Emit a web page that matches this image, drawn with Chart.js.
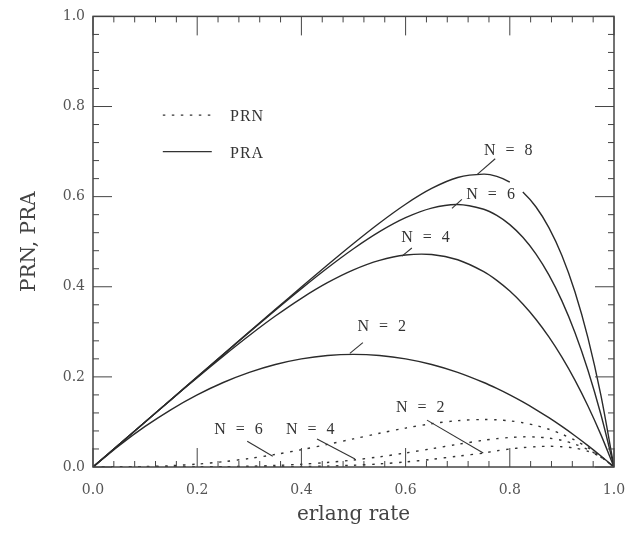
<!DOCTYPE html>
<html>
<head>
<meta charset="utf-8">
<script src="https://cdn.jsdelivr.net/npm/chart.js@4"></script>
<style>
  html, body { margin: 0; padding: 0; background: #fff; }
  #wrap { width: 630px; height: 537px; }
</style>
</head>
<body>
<div id="wrap"><canvas id="chart" width="630" height="537"></canvas></div>
<script>
// erlang rate (x values shared by every curve)
const erlang = [0, 0.05, 0.1, 0.15, 0.2, 0.25, 0.3, 0.35, 0.4, 0.45, 0.5, 0.55, 0.6, 0.65, 0.7, 0.75, 0.775, 0.8, 0.825, 0.85, 0.875, 0.9, 0.925, 0.95, 0.975, 1];

// PRA (solid)
const pra2 = [0, .0475, .09, .1275, .16, .1875, .21, .2275, .24, .2475, .25, .2475, .24, .2275, .21, .1875, .1744, .16, .1444, .1275, .1094, .09, .0694, .0475, .0244, 0];
const pra4 = [0, .05, .0999, .1495, .1984, .2461, .2919, .335, .3744, .409, .4375, .4585, .4704, .4715, .4599, .4336, .4142, .3904, .3618, .328, .2888, .2439, .1929, .1355, .0713, 0];
const pra6 = [0, .05, .1, .15, .1999, .2498, .2993, .3482, .3959, .4417, .4844, .5223, .5533, .5746, .5824, .572, .5583, .5379, .5097, .4729, .4262, .3686, .2986, .2149, .1159, 0];
const pra8 = [0, .05, .1, .15, .2, .25, .2999, .3498, .3993, .4483, .4961, .5416, .5832, .6181, .6424, .6499, .6449, .6322, .6104, .5775, .5314, .4695, .389, .2866, .1584, 0];

// PRN (dotted)
const prn6 = [0, .0001, .0009, .0029, .0064, .0117, .0189, .0279, .0384, .0501, .0625, .0749, .0864, .0961, .1029, .1055, .1047, .1024, .0983, .0921, .0837, .0729, .0594, .0429, .0232, 0];
const prn4 = [0, 0, 0, .0001, .0003, .0007, .0017, .0034, .0061, .0101, .0156, .0226, .0311, .0406, .0504, .0593, .0629, .0655, .0669, .0666, .0641, .059, .0508, .0387, .022, 0];
const prn2 = [0, 0, 0, 0, 0, 0, .0002, .0004, .001, .002, .0039, .0069, .0112, .017, .024, .031, .036, .040, .043, .045, .046, .045, .042, .035, .022, 0];

const xTicks = [0, 0.2, 0.4, 0.6, 0.8, 1.0];
const yTicks = [0, 0.2, 0.4, 0.6, 0.8, 1.0];

// curve labels: text, text position, leader line (all in data units)
const notes = [
  { text: 'N = 8', at: [0.800, 0.702], from: [0.772, 0.684], to: [0.737, 0.649] },
  { text: 'N = 6', at: [0.766, 0.605], from: [0.708, 0.594], to: [0.689, 0.574] },
  { text: 'N = 4', at: [0.641, 0.508], from: [0.612, 0.486], to: [0.593, 0.468] },
  { text: 'N = 2', at: [0.557, 0.311], from: [0.518, 0.276], to: [0.493, 0.252] },
  { text: 'N = 6', at: [0.282, 0.082], from: [0.296, 0.057], to: [0.345, 0.024] },
  { text: 'N = 4', at: [0.420, 0.082], from: [0.430, 0.062], to: [0.503, 0.018] },
  { text: 'N = 2', at: [0.631, 0.132], from: [0.641, 0.104], to: [0.749, 0.031] }
];

const toPts = vals => vals.map((v, i) => ({ x: erlang[i], y: v }));

const solid = { borderColor: '#2b2b2b', borderWidth: 1.4, pointRadius: 0, fill: false, tension: 0.3 };
const dotted = { borderColor: '#333', borderWidth: 1.4, borderDash: [2.5, 6.5], pointRadius: 0, fill: false, tension: 0.3 };

const decor = {
  id: 'decor',
  afterDraw(chart) {
    const { ctx, chartArea: a, scales: { x, y } } = chart;
    ctx.save();
    ctx.strokeStyle = '#444';
    ctx.lineWidth = 1.5;
    ctx.strokeRect(a.left, a.top, a.right - a.left, a.bottom - a.top);

    // inward ticks on all four sides, minor every 0.04
    ctx.lineWidth = 1;
    for (let i = 0; i <= 25; i++) {
      const v = i * 0.04;
      const len = i % 5 === 0 ? 19 : 6;
      const px = x.getPixelForValue(v), py = y.getPixelForValue(v);
      ctx.beginPath();
      ctx.moveTo(px, a.bottom); ctx.lineTo(px, a.bottom - len);
      ctx.moveTo(px, a.top); ctx.lineTo(px, a.top + len);
      ctx.moveTo(a.left, py); ctx.lineTo(a.left + len, py);
      ctx.moveTo(a.right, py); ctx.lineTo(a.right - len, py);
      ctx.stroke();
    }

    // legend
    ctx.font = '16px "Liberation Serif"';
    ctx.fillStyle = '#333';
    ctx.textBaseline = 'middle';
    ctx.letterSpacing = '1px';
    const lx0 = x.getPixelForValue(0.134), lx1 = x.getPixelForValue(0.228), tx = x.getPixelForValue(0.263);
    [['PRN', 0.781, [2.5, 6.5]], ['PRA', 0.700, []]].forEach(([name, yv, dash]) => {
      const py = y.getPixelForValue(yv);
      ctx.setLineDash(dash);
      ctx.lineWidth = 1.3;
      ctx.strokeStyle = '#333';
      ctx.beginPath(); ctx.moveTo(lx0, py); ctx.lineTo(lx1, py); ctx.stroke();
      ctx.fillText(name, tx, py + 2);
    });
    ctx.setLineDash([]);

    // curve labels with leader lines
    ctx.letterSpacing = '3px';
    ctx.textAlign = 'center';
    ctx.lineWidth = 1.1;
    notes.forEach(n => {
      ctx.fillText(n.text, x.getPixelForValue(n.at[0]), y.getPixelForValue(n.at[1]));
      ctx.beginPath();
      ctx.moveTo(x.getPixelForValue(n.from[0]), y.getPixelForValue(n.from[1]));
      ctx.lineTo(x.getPixelForValue(n.to[0]), y.getPixelForValue(n.to[1]));
      ctx.stroke();
    });
    ctx.restore();
  }
};

const tickFont = { family: '"DejaVu Serif"', size: 14 };
const titleFont = { family: '"DejaVu Serif"', size: 20 };

new Chart(document.getElementById('chart').getContext('2d'), {
  type: 'line',
  data: {
    datasets: [
      Object.assign({ data: toPts(pra2) }, solid),
      Object.assign({ data: toPts(pra4) }, solid),
      Object.assign({ data: toPts(pra6) }, solid),
      Object.assign({
        data: toPts(pra8),
        segment: { borderColor: c => (c.p0.parsed.x >= 0.79 && c.p1.parsed.x <= 0.83) ? 'transparent' : undefined }
      }, solid),
      Object.assign({ data: toPts(prn2) }, dotted),
      Object.assign({ data: toPts(prn4) }, dotted),
      Object.assign({ data: toPts(prn6) }, dotted)
    ]
  },
  options: {
    responsive: false,
    animation: false,
    layout: { autoPadding: false, padding: { top: 14, right: 16, left: 0, bottom: 0 } },
    plugins: { legend: { display: false }, tooltip: { enabled: false } },
    scales: {
      x: {
        type: 'linear', min: 0, max: 1,
        afterBuildTicks: s => { s.ticks = xTicks.map(v => ({ value: v })); },
        afterFit: s => { s.height = 70; s.paddingLeft = 0; s.paddingRight = 0; },
        grid: { display: false, drawTicks: false },
        border: { display: false },
        ticks: { padding: 15, color: '#555', font: tickFont, callback: v => v.toFixed(1), maxRotation: 0 },
        title: { display: true, text: 'erlang rate', color: '#444', font: titleFont, padding: { top: 0, bottom: 10 } }
      },
      y: {
        type: 'linear', min: 0, max: 1,
        afterBuildTicks: s => { s.ticks = yTicks.map(v => ({ value: v })); },
        afterFit: s => { s.width = 93; },
        grid: { display: false, drawTicks: false },
        border: { display: false },
        ticks: { padding: 8, color: '#555', font: tickFont, callback: v => v.toFixed(1) },
        title: { display: true, text: 'PRN, PRA', color: '#444', font: titleFont, padding: { top: 18, bottom: 0 } }
      }
    }
  },
  plugins: [decor]
});
</script>
</body>
</html>
